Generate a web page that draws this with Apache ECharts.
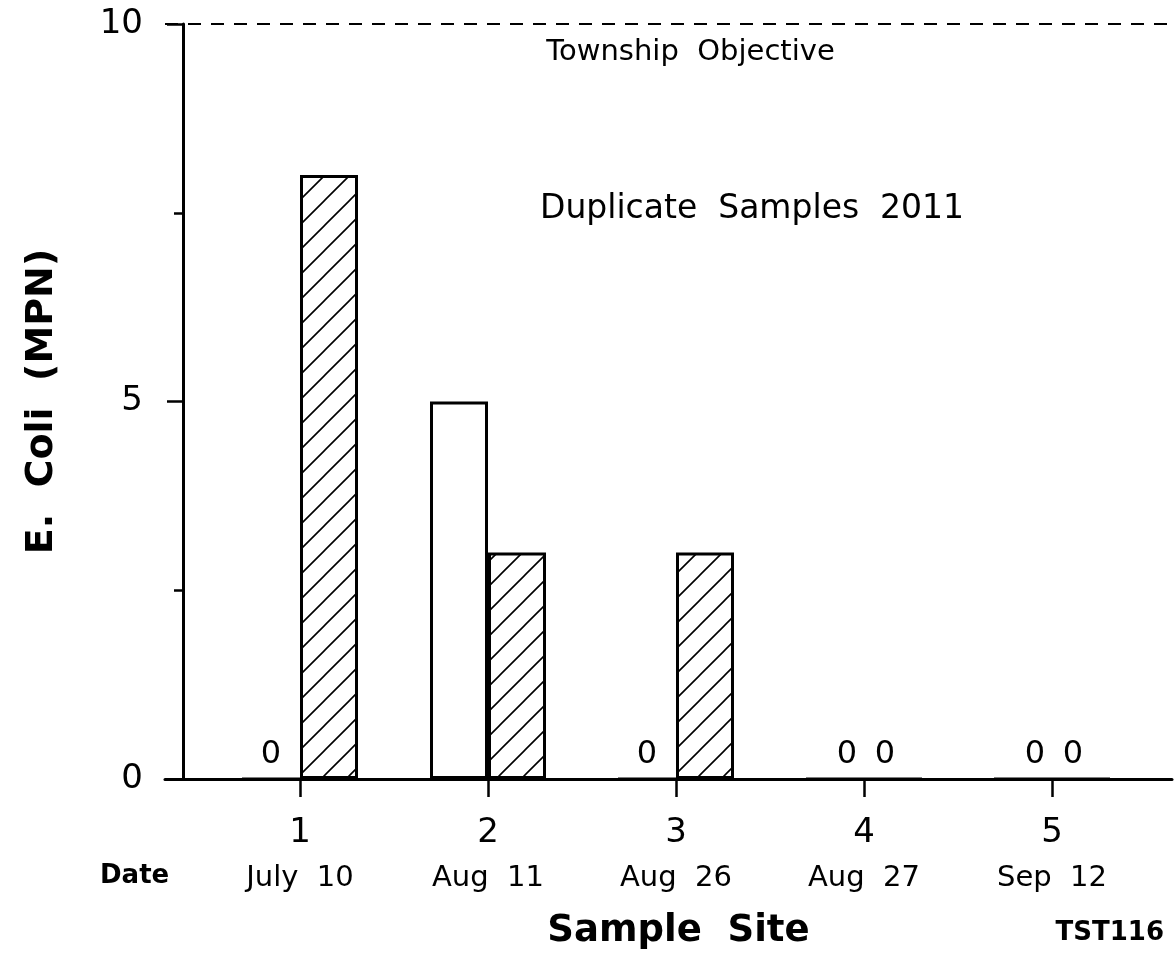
<!DOCTYPE html>
<html>
<head>
<meta charset="utf-8">
<script src="https://cdn.jsdelivr.net/npm/echarts@6/dist/echarts.min.js"></script>
<style>
  html, body { margin: 0; padding: 0; background: #fff; }
  #main { width: 1176px; height: 961px; }
</style>
</head>
<body>
<div id="main"></div>
<script>
// ---- data ----
const sites = [1, 2, 3, 4, 5];
const dates = ['July  10', 'Aug  11', 'Aug  26', 'Aug  27', 'Sep  12'];
const sampleA = [0, 5, 0, 0, 0];   // open bars
const sampleB = [8, 3, 3, 0, 0];   // hatched (duplicate) bars
const objective = 10;
const yTicks = [0, 5, 10];

const FONT = 'DejaVu Sans';

// hatch pattern
function makeHatch() {
  const s = 25;
  const c = document.createElement('canvas');
  c.width = s; c.height = s;
  const g = c.getContext('2d');
  g.fillStyle = '#fff';
  g.fillRect(0, 0, s, s);
  g.strokeStyle = '#000';
  g.lineWidth = 1.6;
  g.beginPath();
  g.moveTo(-2, s + 2); g.lineTo(s + 2, -2);
  g.moveTo(-2, 2); g.lineTo(2, -2);
  g.moveTo(s - 2, s + 2); g.lineTo(s + 2, s - 2);
  g.stroke();
  return c;
}

const chart = echarts.init(document.getElementById('main'), null, { renderer: 'canvas' });

const labelBase = {
  show: true,
  position: 'top',
  distance: 7,
  color: '#000',
  fontFamily: FONT,
  fontSize: 32,
  formatter: p => (p.value[1] === 0 ? '0' : '')
};

// when both samples at a site are zero, the two "0" labels sit a bit closer together
function items(values, other, shift) {
  return sites.map((s, i) => {
    const item = { value: [s, values[i]] };
    if (values[i] === 0 && other[i] === 0) item.label = { offset: [shift, 0] };
    return item;
  });
}

chart.setOption({
  animation: false,
  backgroundColor: '#fff',
  textStyle: { fontFamily: FONT, color: '#000' },
  title: {
    text: 'Duplicate  Samples  2011',
    left: 535, top: 188,
    textStyle: { fontFamily: FONT, fontSize: 33, fontWeight: 'normal', color: '#000' }
  },
  grid: { left: 165, right: 4, top: 24, bottom: 182, containLabel: false },
  xAxis: {
    type: 'value',
    min: 1 - 135 / 188,
    max: 5 + 120 / 188,
    name: 'Sample  Site',
    nameLocation: 'middle',
    nameGap: 134,
    nameTextStyle: { fontFamily: FONT, fontSize: 37, fontWeight: 'bold', color: '#000', padding: [0, 0, 0, 20] },
    axisLine: { show: true, onZero: false, lineStyle: { color: '#000', width: 3 } },
    axisTick: { show: true, customValues: sites, length: 18, lineStyle: { color: '#000', width: 2.5 } },
    axisLabel: {
      customValues: sites,
      margin: 32,
      formatter: v => '{n|' + v + '}\n{d|' + dates[sites.indexOf(v)] + '}',
      rich: {
        n: { fontFamily: FONT, fontSize: 34, lineHeight: 45, color: '#000' },
        d: { fontFamily: FONT, fontSize: 29, lineHeight: 45, color: '#000' }
      }
    },
    splitLine: { show: false }
  },
  yAxis: {
    type: 'value',
    min: 0, max: 10, interval: 5,
    offset: -18,
    name: 'E.  Coli  (MPN)',
    nameLocation: 'middle',
    nameRotate: 90,
    nameGap: 122,
    nameTextStyle: { fontFamily: FONT, fontSize: 38, fontWeight: 'bold', color: '#000' },
    axisLine: { show: true, lineStyle: { color: '#000', width: 3 } },
    axisTick: { show: true, length: 16, lineStyle: { color: '#000', width: 2.5 } },
    minorTick: { show: true, splitNumber: 2, length: 9, lineStyle: { color: '#000', width: 2.5 } },
    axisLabel: {
      margin: 40, fontFamily: FONT, fontSize: 34, color: '#000',
      customValues: yTicks
    },
    splitLine: { show: false }
  },
  series: [
    {
      type: 'bar',
      name: 'Sample',
      data: items(sampleA, sampleB, 12),
      barWidth: 58,
      barGap: '0%',
      itemStyle: { color: '#fff', borderColor: '#000', borderWidth: 3 },
      label: labelBase,
      markLine: {
        silent: true,
        symbol: 'none',
        lineStyle: { color: '#000', width: 2, type: [13, 10] },
        label: {
          show: true,
          position: 'insideMiddleBottom',
          distance: 14,
          offset: [22, 0],
          formatter: 'Township  Objective',
          fontFamily: FONT, fontSize: 29, color: '#000'
        },
        data: [{ yAxis: objective }]
      }
    },
    {
      type: 'bar',
      name: 'Duplicate',
      data: items(sampleB, sampleA, -8),
      barWidth: 58,
      barGap: '0%',
      itemStyle: {
        color: { image: makeHatch(), repeat: 'repeat' },
        borderColor: '#000', borderWidth: 3
      },
      label: labelBase
    }
  ],
  graphic: [
    {
      type: 'text',
      left: 100, top: 863,
      style: { text: 'Date', fontFamily: FONT, fontSize: 26, fontWeight: 'bold', fill: '#000' }
    },
    {
      type: 'text',
      right: 12, top: 920,
      style: { text: 'TST116', fontFamily: FONT, fontSize: 26, fontWeight: 'bold', fill: '#000' }
    }
  ]
});
</script>
</body>
</html>
